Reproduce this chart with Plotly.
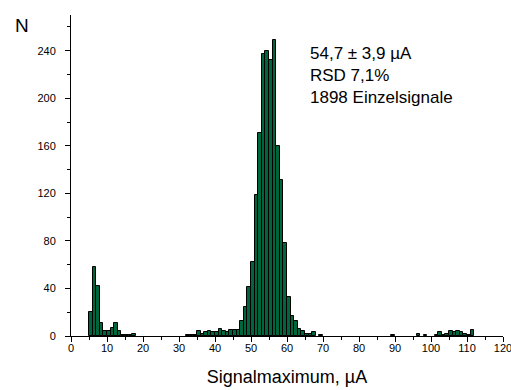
import plotly.graph_objects as go

# Histogram bins (left edge, µA) and counts
bin_left = [5, 6, 7, 8, 9, 10, 11, 12, 13, 14, 15, 16, 17,
            32, 33, 34, 35, 36, 37, 38, 39, 40, 41, 42, 43, 44, 45, 46,
            47, 48, 49, 50, 51, 52, 53, 54, 55, 56, 57, 58, 59, 60,
            61, 62, 63, 64, 65, 66, 67, 69,
            89, 96, 98, 101, 102, 103, 104, 105, 106, 107, 108, 109, 110, 111]
counts = [20, 58, 42, 11, 4, 4, 7, 11, 4, 1, 1, 1, 2,
          1, 1, 1, 4, 2, 3, 4, 3, 3, 6, 4, 3, 5, 5, 5,
          13, 24, 41, 62, 119, 171, 237, 240, 232, 249, 160, 131, 78, 33,
          17, 13, 6, 4, 2, 2, 3, 1,
          1, 2, 1, 1, 3, 1, 2, 4, 3, 4, 3, 2, 1, 5]
bin_width = 1

x_ticks = list(range(0, 121, 10))
y_ticks = list(range(0, 241, 40))
stats_lines = ["54,7 ± 3,9 µA", "RSD 7,1%", "1898 Einzelsignale"]

fig = go.Figure()
fig.add_trace(go.Bar(
    x=[b + bin_width / 2 for b in bin_left],
    y=counts,
    width=bin_width,
    marker=dict(color="#00643c", line=dict(color="#000000", width=1)),
    showlegend=False,
))

font_family = "Liberation Sans, Arial, sans-serif"

fig.update_layout(
    width=511, height=390,
    margin=dict(l=71, r=8, t=15, b=54, autoexpand=False),
    paper_bgcolor="white", plot_bgcolor="white",
    bargap=0,
    font=dict(family=font_family, color="black", size=11),
    xaxis=dict(
        range=[0, 120], showgrid=False, zeroline=False,
        showline=True, linecolor="black", linewidth=1,
        ticks="outside", ticklen=5, tickwidth=1, tickcolor="black",
        tickvals=x_ticks, ticktext=[str(v) for v in x_ticks],
        tickfont=dict(size=11), ticklabelstandoff=-3,
        ticklabeloverflow="allow", automargin=False,
        minor=dict(dtick=5, ticks="outside", ticklen=3, tickcolor="black"),
        title=dict(text="Signalmaximum, µA", font=dict(size=18), standoff=17),
    ),
    yaxis=dict(
        range=[0, 270], showgrid=False, zeroline=False,
        showline=True, linecolor="black", linewidth=1,
        ticks="outside", ticklen=5, tickwidth=1, tickcolor="black",
        tickvals=y_ticks, ticktext=[str(v) for v in y_ticks],
        tickfont=dict(size=11), ticklabelstandoff=7, automargin=False,
        minor=dict(dtick=20, ticks="outside", ticklen=3, tickcolor="black"),
    ),
    annotations=[
        dict(text="N", xref="paper", yref="paper", x=-0.1346, y=1.006,
             xanchor="left", yanchor="top", showarrow=False,
             font=dict(size=19)),
        dict(text="<br>".join(stats_lines), xref="x", yref="paper",
             x=65.7, y=0.916, xanchor="left", yanchor="top", align="left",
             showarrow=False, font=dict(size=17)),
    ],
)

fig.write_html("out.html")
